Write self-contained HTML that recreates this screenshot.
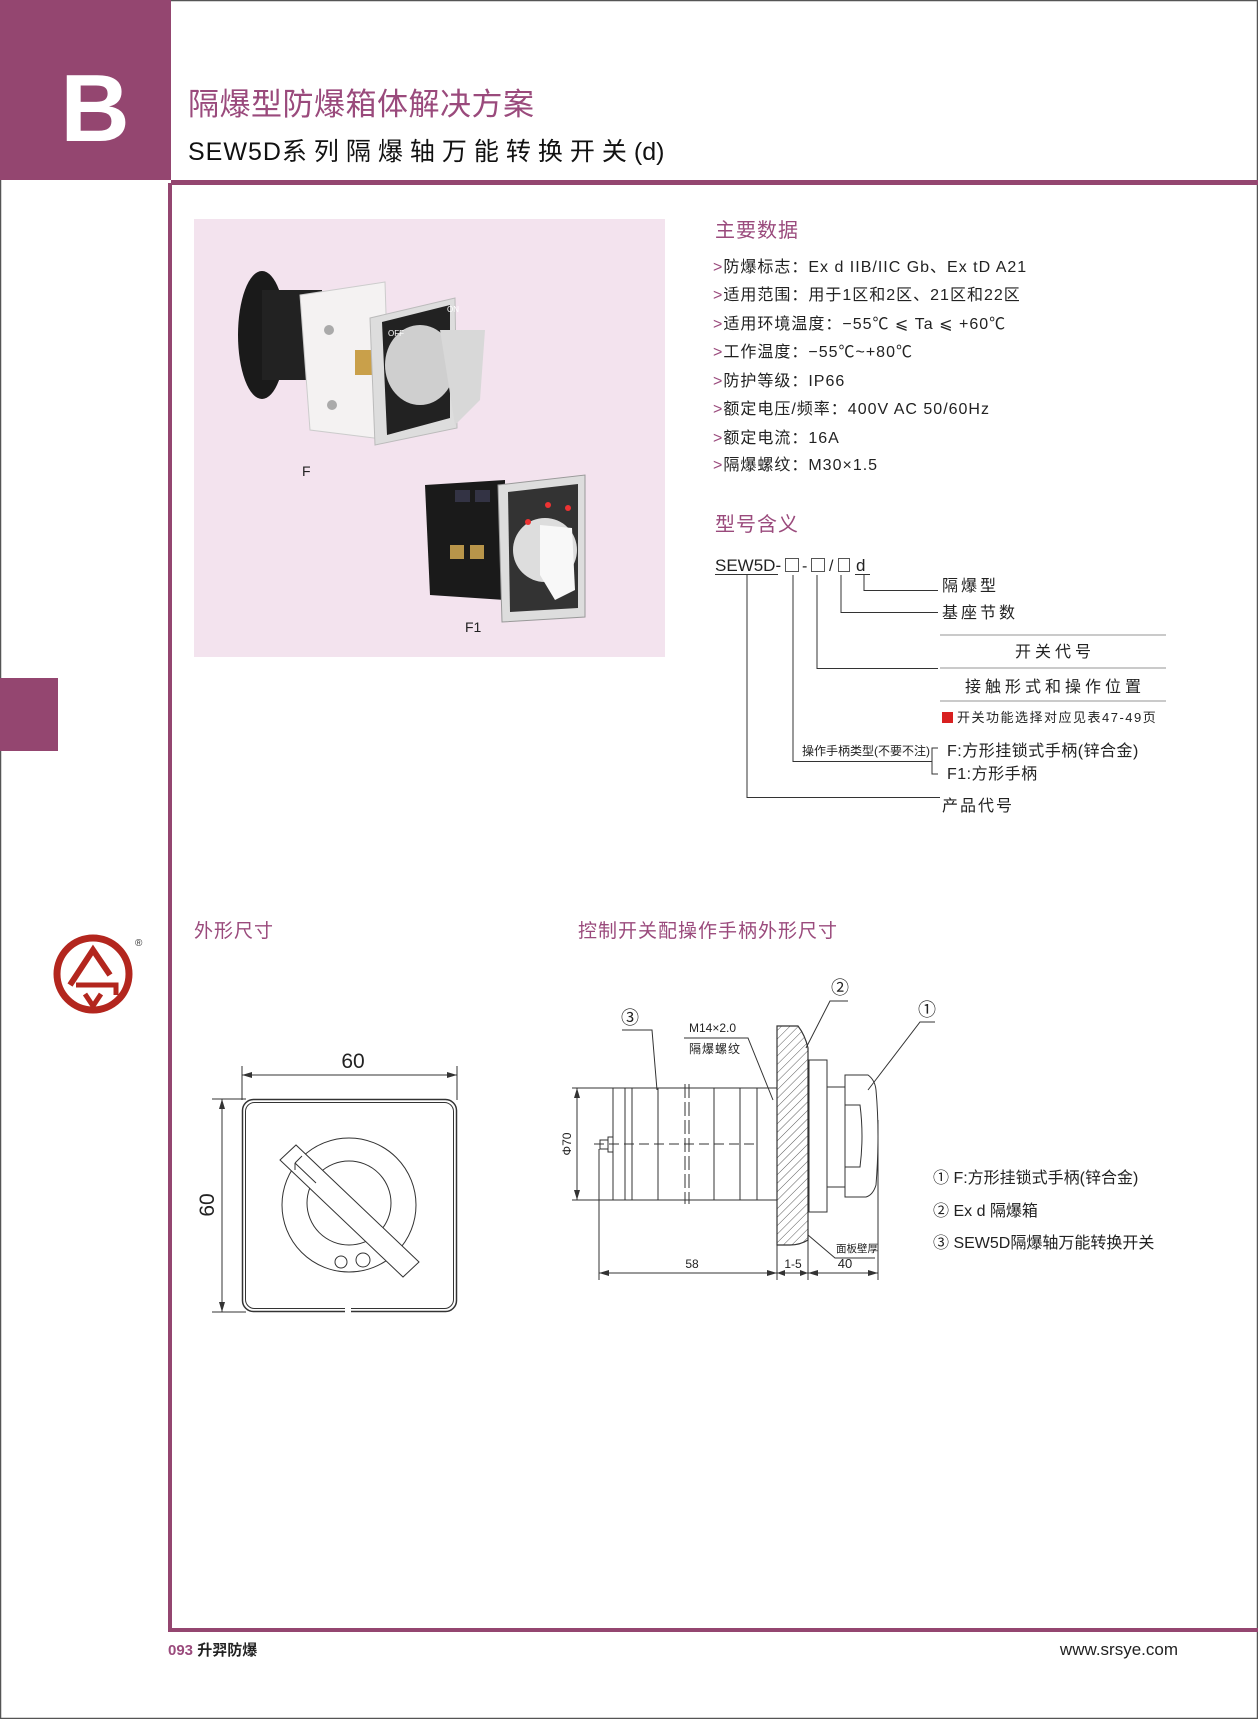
<!DOCTYPE html>
<html><head><meta charset="utf-8">
<style>
html,body{margin:0;padding:0;background:#fff;}
body{width:1258px;height:1719px;position:relative;overflow:hidden;}
svg{position:absolute;left:0;top:0;}
text{font-family:"Liberation Sans","Noto Sans CJK SC",sans-serif;}
</style></head>
<body>
<svg width="1258" height="1719" viewBox="0 0 1258 1719" xmlns="http://www.w3.org/2000/svg">
<defs>
<pattern id="hatch" width="6" height="6" patternUnits="userSpaceOnUse" patternTransform="rotate(45)">
<line x1="0" y1="0" x2="0" y2="6" stroke="#333" stroke-width="0.8"/>
</pattern>
</defs>
<rect x="0.5" y="0.5" width="1257" height="1718" fill="none" stroke="#555" stroke-width="1.5"/>
<rect x="0" y="0" width="171" height="180" fill="#944670"/>
<rect x="171" y="180" width="1087" height="5" fill="#944670"/>
<rect x="168" y="183" width="4" height="1449" fill="#944670"/>
<rect x="168" y="1628" width="1090" height="4" fill="#944670"/>
<rect x="0" y="678" width="58" height="73" fill="#944670"/>
<text x="95" y="141" font-size="96" font-weight="bold" fill="#fff" text-anchor="middle">B</text>
<text x="188" y="115" font-size="31" fill="#9a4a7c" letter-spacing="0.5">隔爆型防爆箱体解决方案</text>
<text x="188" y="160" font-size="25" fill="#111"><tspan letter-spacing="1">SEW5D</tspan><tspan letter-spacing="7">系列隔爆轴万能转换开关</tspan><tspan>(d)</tspan></text>

<rect x="194" y="219" width="471" height="438" fill="#f3e3ee"/>
<ellipse cx="262" cy="335" rx="24" ry="64" fill="#1a1a1a"/>
<rect x="262" y="290" width="60" height="90" fill="#222"/>
<path d="M300 295 L385 282 L390 440 L310 430 Z" fill="#f4f2f2" stroke="#ccc"/>
<circle cx="329" cy="330" r="5" fill="#aaa"/><circle cx="332" cy="405" r="5" fill="#aaa"/>
<rect x="355" y="350" width="20" height="25" fill="#c9a04a"/>
<path d="M370 318 L455 298 L457 428 L375 445 Z" fill="#ddd" stroke="#bbb"/>
<path d="M382 322 L450 305 L450 418 L387 435 Z" fill="#222"/>
<ellipse cx="420" cy="365" rx="35" ry="40" fill="#cfcfcf"/>
<path d="M440 330 L485 330 L480 400 L455 425 Z" fill="#d8d8d8"/>
<text x="388" y="336" font-size="8" fill="#fff">OFF</text><text x="447" y="312" font-size="8" fill="#fff">ON</text>
<text x="302" y="476" font-size="14" fill="#222">F</text>
<path d="M425 485 L505 480 L505 600 L430 595 Z" fill="#1a1a1a"/>
<rect x="455" y="490" width="15" height="12" fill="#334"/><rect x="475" y="490" width="15" height="12" fill="#334"/>
<rect x="450" y="545" width="14" height="14" fill="#b8954a"/><rect x="470" y="545" width="14" height="14" fill="#b8954a"/>
<path d="M498 485 L585 475 L585 617 L502 622 Z" fill="#ddd" stroke="#999"/>
<path d="M508 492 L578 484 L578 608 L510 612 Z" fill="#333"/>
<circle cx="545" cy="550" r="32" fill="#ddd"/>
<path d="M540 525 L572 528 L575 590 L555 600 L540 575 Z" fill="#f8f8f8"/>
<circle cx="548" cy="505" r="3" fill="#e33"/><circle cx="568" cy="508" r="3" fill="#e33"/><circle cx="528" cy="522" r="3" fill="#e33"/>
<text x="465" y="632" font-size="14" fill="#222">F1</text>

<text x="715" y="237" font-size="20" fill="#9a4a7c" letter-spacing="1">主要数据</text>
<g font-size="16" fill="#222" letter-spacing="1">
<text x="713" y="272"><tspan fill="#9a4a7c">&gt;</tspan>防爆标志：Ex d IIB/IIC Gb、Ex tD A21</text>
<text x="713" y="300"><tspan fill="#9a4a7c">&gt;</tspan>适用范围：用于1区和2区、21区和22区</text>
<text x="713" y="329"><tspan fill="#9a4a7c">&gt;</tspan>适用环境温度：−55℃ ⩽ Ta ⩽ +60℃</text>
<text x="713" y="357"><tspan fill="#9a4a7c">&gt;</tspan>工作温度：−55℃~+80℃</text>
<text x="713" y="386"><tspan fill="#9a4a7c">&gt;</tspan>防护等级：IP66</text>
<text x="713" y="414"><tspan fill="#9a4a7c">&gt;</tspan>额定电压/频率：400V  AC  50/60Hz</text>
<text x="713" y="443"><tspan fill="#9a4a7c">&gt;</tspan>额定电流：16A</text>
<text x="713" y="470"><tspan fill="#9a4a7c">&gt;</tspan>隔爆螺纹：M30×1.5</text>
</g>
<text x="715" y="531" font-size="20" fill="#9a4a7c" letter-spacing="1">型号含义</text>

<text x="715" y="571" font-size="17" fill="#222">SEW5D-</text>
<g fill="none" stroke="#555" stroke-width="1">
<rect x="785.5" y="558.5" width="13" height="13"/>
<rect x="811.5" y="558.5" width="13" height="13"/>
<rect x="838.5" y="558.5" width="11" height="13"/>
</g>
<text x="802" y="571" font-size="16" fill="#222">-</text>
<text x="829" y="571" font-size="16" fill="#222">/</text>
<text x="856" y="571" font-size="17" fill="#222">d</text>
<g stroke="#333" stroke-width="1" fill="none">
<line x1="715" y1="574.5" x2="778" y2="574.5"/>
<line x1="855" y1="574.5" x2="870" y2="574.5"/>
<polyline points="747,575 747,797.5 940,797.5"/>
<polyline points="793,575 793,761.5 932,761.5"/>
<polyline points="938,748 932,748 932,774 938,774"/>
<polyline points="817,575 817,668.5 938,668.5"/>
<polyline points="841,575 841,612.5 938,612.5"/>
<polyline points="864,575 864,590.5 938,590.5"/>
</g>
<g stroke="#aaa" stroke-width="1.2">
<line x1="940" y1="635" x2="1166" y2="635"/>
<line x1="940" y1="668" x2="1166" y2="668"/>
<line x1="940" y1="701" x2="1166" y2="701"/>
</g>
<g font-size="16" fill="#222">
<text x="942" y="591" letter-spacing="3">隔爆型</text>
<text x="942" y="618" letter-spacing="3">基座节数</text>
<text x="1055" y="657" text-anchor="middle" letter-spacing="4">开关代号</text>
<text x="1055" y="692" text-anchor="middle" letter-spacing="4">接触形式和操作位置</text>
<text x="947" y="756" letter-spacing="0.5">F:方形挂锁式手柄(锌合金)</text>
<text x="947" y="779" letter-spacing="0.5">F1:方形手柄</text>
<text x="942" y="811" letter-spacing="2">产品代号</text>
</g>
<rect x="942" y="712" width="11" height="11" fill="#d82020"/>
<text x="957" y="722" font-size="13" fill="#222" letter-spacing="1.5">开关功能选择对应见表47-49页</text>
<text x="802" y="755" font-size="12" fill="#222">操作手柄类型(不要不注)</text>

<text x="194" y="937" font-size="19" fill="#9a4a7c" letter-spacing="1">外形尺寸</text>
<text x="578" y="937" font-size="19" fill="#9a4a7c" letter-spacing="1">控制开关配操作手柄外形尺寸</text>

<circle cx="93" cy="974" r="36" fill="none" stroke="#b3261e" stroke-width="7"/>
<path d="M70 985 L93 950 L110 975" fill="none" stroke="#b3261e" stroke-width="6"/>
<path d="M76 985 L116 985 L116 995" fill="none" stroke="#b3261e" stroke-width="5"/>
<path d="M85 994 L93 1006 L101 994" fill="none" stroke="#b3261e" stroke-width="5"/>
<text x="135" y="946" font-size="10" fill="#333">®</text>

<g stroke="#333" stroke-width="1" fill="none">
<line x1="242" y1="1066" x2="242" y2="1100"/><line x1="457" y1="1066" x2="457" y2="1100"/>
<line x1="242" y1="1075" x2="457" y2="1075"/>
<line x1="212" y1="1099" x2="246" y2="1099"/><line x1="212" y1="1312" x2="246" y2="1312"/>
<line x1="222" y1="1099" x2="222" y2="1312"/>
<rect x="242.5" y="1099.5" width="214" height="212" rx="11" stroke-width="1.5"/>
<rect x="245.5" y="1102.5" width="208" height="206" rx="9"/>
<circle cx="349" cy="1205" r="67"/>
<circle cx="349" cy="1203" r="42"/>
<path d="M280 1160 L296 1145 L419 1262 L403 1277 Z" fill="#fff"/>
<path d="M295 1163 L302 1156 M295 1163 L295 1170 M295 1163 L316 1183" />
<circle cx="341" cy="1262" r="6"/><circle cx="363" cy="1260" r="7"/>
</g>
<rect x="345" y="1307" width="6" height="8" fill="#fff"/>
<g fill="#333">
<path d="M242 1075 l10 -3 v6 z"/><path d="M457 1075 l-10 -3 v6 z"/>
<path d="M222 1099 l-3 10 h6 z"/><path d="M222 1312 l-3 -10 h6 z"/>
</g>
<text x="353" y="1068" font-size="21" fill="#222" text-anchor="middle">60</text>
<text x="0" y="0" font-size="21" fill="#222" text-anchor="middle" transform="translate(214,1205) rotate(-90)">60</text>

<g stroke="#333" stroke-width="1" fill="none">
<line x1="572" y1="1088" x2="777" y2="1088"/><line x1="572" y1="1200" x2="777" y2="1200"/>
<line x1="577" y1="1088" x2="577" y2="1200"/>
<line x1="613" y1="1088" x2="613" y2="1200"/>
<line x1="625" y1="1088" x2="625" y2="1200"/>
<line x1="632" y1="1088" x2="632" y2="1200"/>
<line x1="658" y1="1088" x2="658" y2="1200"/>
<line x1="714" y1="1088" x2="714" y2="1200"/>
<line x1="740" y1="1088" x2="740" y2="1200"/>
<line x1="757" y1="1088" x2="757" y2="1200"/>
<line x1="685" y1="1084" x2="685" y2="1204" stroke-dasharray="14,4"/>
<line x1="689" y1="1084" x2="689" y2="1204" stroke-dasharray="14,4"/>
<line x1="594" y1="1144" x2="757" y2="1144" stroke-dasharray="10,5"/>
<rect x="600" y="1140" width="8" height="9"/><rect x="608" y="1137" width="5" height="15"/>
<line x1="599" y1="1149" x2="599" y2="1280"/>
<line x1="777" y1="1245" x2="777" y2="1280"/>
<line x1="808" y1="1240" x2="808" y2="1280"/>
<line x1="878" y1="1120" x2="878" y2="1280"/>
<line x1="599" y1="1273" x2="878" y2="1273"/>
<path d="M777 1026 L798 1026 Q805 1035 808 1048 L808 1240 Q800 1245 790 1245 L777 1245 Z" fill="url(#hatch)" stroke-width="1.2"/>
<rect x="809" y="1060" width="18" height="152"/>
<rect x="827" y="1087" width="18" height="100"/>
<path d="M845 1075 L868 1075 Q875 1080 876 1090 Q880 1135 876 1185 Q873 1195 866 1197 L845 1197 Z"/>
<path d="M845 1105 L860 1105 Q864 1136 860 1167 L845 1167"/>
<polyline points="622,1030 652,1030 657,1090"/>
<polyline points="684,1038 748,1038 773,1100"/>
<polyline points="848,1001 830,1001 806,1048"/>
<polyline points="935,1022 920,1022 868,1090"/>
<polyline points="808,1235 835,1258 875,1258"/>
</g>
<g fill="#333">
<path d="M599 1273 l10 -3 v6 z"/><path d="M777 1273 l-10 -3 v6 z"/>
<path d="M777 1273 l8 -3 v6 z"/><path d="M808 1273 l-8 -3 v6 z"/>
<path d="M808 1273 l10 -3 v6 z"/><path d="M878 1273 l-10 -3 v6 z"/>
<path d="M577 1088 l-3 10 h6 z"/><path d="M577 1200 l-3 -10 h6 z"/>
</g>
<g font-size="12" fill="#222">
<text x="689" y="1032">M14×2.0</text>
<text x="689" y="1053" letter-spacing="1">隔爆螺纹</text>
<text x="692" y="1268" text-anchor="middle">58</text>
<text x="793" y="1268" text-anchor="middle">1-5</text>
<text x="845" y="1268" text-anchor="middle" font-size="13">40</text>
<text x="836" y="1252" font-size="10.5">面板壁厚</text>
<text x="0" y="0" text-anchor="middle" transform="translate(571,1144) rotate(-90)">Φ70</text>
</g>
<g font-size="18" fill="#222">
<text x="630" y="1024" text-anchor="middle">③</text>
<text x="840" y="994" text-anchor="middle">②</text>
<text x="927" y="1016" text-anchor="middle">①</text>
</g>
<g font-size="16" fill="#222">
<text x="933" y="1183">① F:方形挂锁式手柄(锌合金)</text>
<text x="933" y="1216">② Ex d 隔爆箱</text>
<text x="933" y="1248">③ SEW5D隔爆轴万能转换开关</text>
</g>

<text x="168" y="1655" font-size="15" font-weight="bold" fill="#9a4a7c">093 <tspan fill="#222">升羿防爆</tspan></text>
<text x="1178" y="1655" font-size="17" fill="#222" text-anchor="end">www.srsye.com</text>
</svg>
</body></html>
